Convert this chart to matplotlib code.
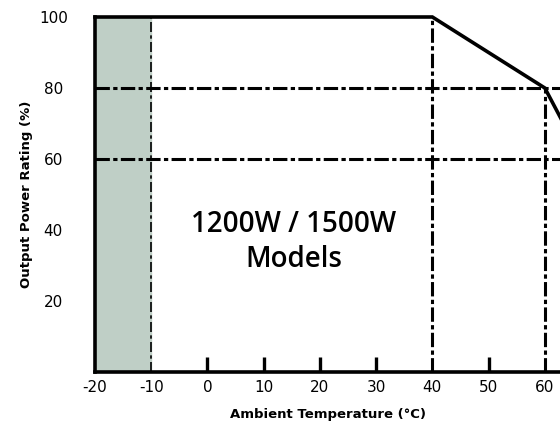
import matplotlib.pyplot as plt

# derating curve
temp = [-20, 40, 60, 70]
rating = [100, 100, 80, 50]

x_ticks = [-20, -10, 0, 10, 20, 30, 40, 50, 60]
tick_marks = [0, 10, 20, 30, 50]
y_ticks = [20, 40, 60, 80, 100]
h_lines = [80, 60]
v_lines = [40, 60]
shade = (-20, -10)

fig = plt.figure(figsize=(5.6, 4.26), dpi=100)
ax = fig.add_axes([95 / 560, 1 - 372 / 426, 1 - 95 / 560, (372 - 17) / 426])
ax.set_xlim(-20, 62.7)
ax.set_ylim(0, 100)

ax.axvspan(shade[0], shade[1], color='#bfcfc6', zorder=0)
dash = (0, (4.7, 1.1, 1.4, 1.1))
for y in h_lines:
    ax.plot([-20, 62.7], [y, y], color='black', lw=2.2, linestyle=dash, zorder=2)
for x in v_lines:
    top = rating[temp.index(x)]
    ax.plot([x, x], [0, top], color='black', lw=2.2, linestyle=dash, zorder=2)
ax.plot([shade[1], shade[1]], [0, 100], color='black', lw=1.2,
        linestyle=(0, (6, 2, 2, 2)), zorder=2)

ax.plot(temp, rating, color='black', lw=2.6, solid_joinstyle='miter', clip_on=False, zorder=3)

for s in ['top', 'right']:
    ax.spines[s].set_visible(False)
for s in ['left', 'bottom']:
    ax.spines[s].set_linewidth(2.6)

ax.set_xticks(x_ticks)
ax.set_xticklabels([str(t) for t in x_ticks], fontsize=11, family='DejaVu Sans')
ax.tick_params(axis='x', direction='in', length=11, width=2.4, pad=6)
for t, tick in zip(x_ticks, ax.xaxis.get_major_ticks()):
    if t not in tick_marks:
        tick.tick1line.set_visible(False)
ax.set_yticks(y_ticks)
ax.set_yticklabels([str(t) for t in y_ticks], fontsize=11, family='DejaVu Sans', ha='center')
ax.tick_params(axis='y', length=0, pad=30)

ax.set_xlabel('Ambient Temperature (°C)', fontsize=9.5, fontweight='bold',
              family='DejaVu Sans', labelpad=9)
ax.set_ylabel('Output Power Rating (%)', fontsize=9.5, fontweight='bold',
              family='DejaVu Sans', labelpad=4)

ax.text(15.3, 36.6, '1200W / 1500W\nModels', ha='center', va='center', fontsize=20,
        family='Open Sans', fontweight='semibold', linespacing=1.3)

fig.savefig('out.png', dpi=100)
